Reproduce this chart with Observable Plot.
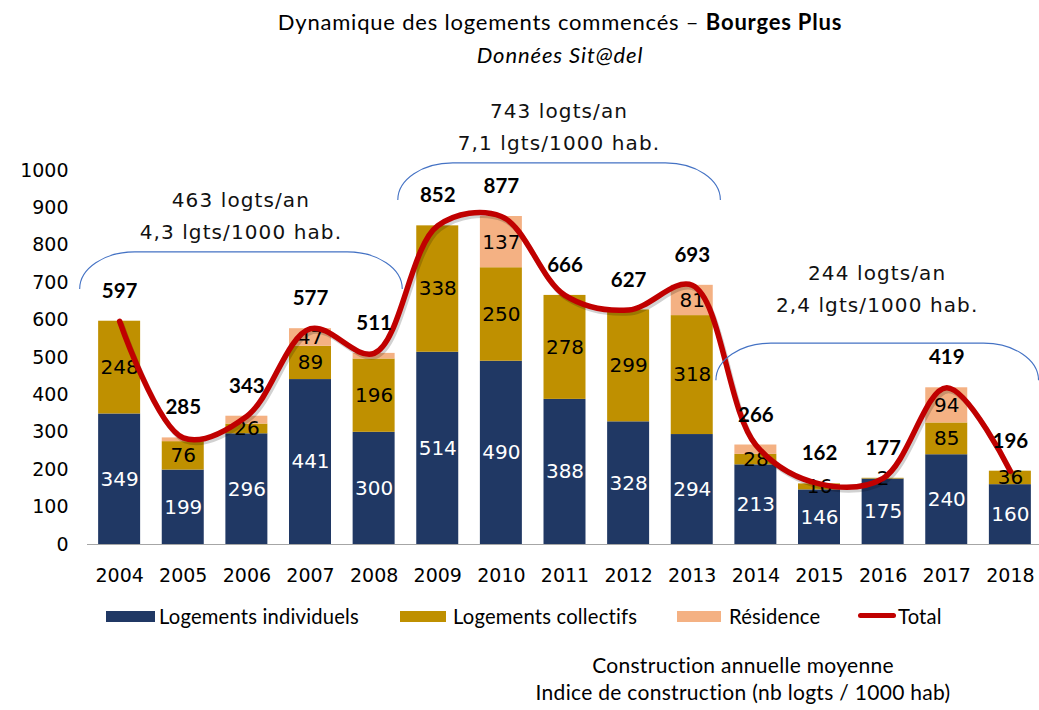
<!DOCTYPE html>
<html><head><meta charset="utf-8">
<script src="https://cdn.jsdelivr.net/npm/d3@7"></script>
<script src="https://cdn.jsdelivr.net/npm/@observablehq/plot@0.6"></script>
<style>
body{margin:0;background:#fff;}
#wrap{position:relative;width:1039px;height:710px;overflow:hidden;font-family:Lato,"Open Sans",sans-serif;color:#000;}
.t1{position:absolute;left:60px;width:1000px;top:8px;text-align:center;font-size:22px;line-height:28px;letter-spacing:0.8px;}
.t2{position:absolute;left:60px;width:1000px;top:41px;text-align:center;font-size:22px;line-height:28px;font-style:italic;letter-spacing:0.9px;}
#chart{position:absolute;left:0;top:80px;}
.leg{position:absolute;top:603px;font-size:20.2px;line-height:26px;white-space:nowrap;letter-spacing:0.2px;}
.sw{position:absolute;top:8px;height:11px;}
.cap{position:absolute;left:493px;width:500px;top:651px;text-align:center;font-size:21px;line-height:27px;letter-spacing:0.3px;}
</style></head><body>
<div id="wrap">
  <div class="t1">Dynamique des logements commencés – <b>Bourges Plus</b></div>
  <div class="t2">Données Sit@del</div>
  <div id="chart"></div>
  <div id="legend"></div>
  <div class="cap">Construction annuelle moyenne<br>Indice de construction (nb logts / 1000 hab)</div>
</div>
<script>
const years = ["2004","2005","2006","2007","2008","2009","2010","2011","2012","2013","2014","2015","2016","2017","2018"];
const individuels = [349,199,296,441,300,514,490,388,328,294,213,146,175,240,160];
const collectifs  = [248, 76, 26, 89,196,338,250,278,299,318, 28, 16,  2, 85, 36];
const residence   = [  0, 10, 21, 47, 15,  0,137,  0,  0, 81, 25,  0,  0, 94,  0];
const totals      = [597,285,343,577,511,852,877,666,627,693,266,162,177,419,196];
const types = ["Logements individuels","Logements collectifs","Résidence"];
const colors = ["#203864","#BF9000","#F4B183"];
const yTicks = [0,100,200,300,400,500,600,700,800,900,1000];

// period annotations (levels in data units)
const periodFrom   = ["2004","2009","2014"];
const periodTo     = ["2008","2013","2018"];
const periodMid    = ["2006","2011","2016"];
const periodLevel  = [781, 1019, 537];
const periodTextY  = [818, 1056, 622];
const periodText   = ["463 logts/an\n4,3 lgts/1000 hab.","743 logts/an\n7,1 lgts/1000 hab.","244 logts/an\n2,4 lgts/1000 hab."];

const series = [individuels, collectifs, residence];
const rows = years.flatMap((yr,i) => types.map((t,k) => ({year: yr, type: t, value: series[k][i]})));
const labelRows = years.flatMap((yr,i) => {
  const out = [];
  let base = 0;
  series.forEach((s,k) => {
    const v = s[i];
    const show = k === 0 ? true : (k === 1 ? v > 0 : v >= 40);
    if (show) out.push({year: yr, k, value: v, mid: base + v/2});
    base += v;
  });
  return out;
});
const totalRows = years.map((yr,i) => ({year: yr, total: totals[i]}));
const periods = periodFrom.map((f,i) => ({from: f, to: periodTo[i], mid: periodMid[i], level: periodLevel[i], textY: periodTextY[i], text: periodText[i]}));

const font = "'DejaVu Sans', sans-serif";
const plot = Plot.plot({
  width: 1039, height: 520,
  marginLeft: 87, marginRight: 0, marginTop: 90, marginBottom: 56,
  style: {fontFamily: font, fontSize: "19px", background: "transparent", overflow: "visible"},
  x: {domain: years, range: [76.5, 1052.5], padding: 0.34, round: false, tickSize: 0, tickPadding: 24, label: null},
  y: {domain: [0, 1000], ticks: yTicks, tickFormat: d => String(d), tickSize: 0, tickPadding: 19, label: null},
  color: {domain: types, range: colors},
  marks: [
    Plot.barY(rows, {x: "year", y: "value", fill: "type"}),
    Plot.ruleY([0], {stroke: "#A6A6A6", strokeWidth: 1.2}),
    Plot.text(labelRows.filter(d => d.k === 0), {x: "year", y: "mid", text: d => String(d.value), fill: "white", fontSize: 20}),
    Plot.text(labelRows.filter(d => d.k > 0), {x: "year", y: "mid", text: d => String(d.value), fill: "black", fontSize: 20}),
    Plot.line(totalRows, {x: "year", y: "total", stroke: "#000", strokeOpacity: 0.18, strokeWidth: 5, dx: 2, dy: 3, curve: "catmull-rom"}),
    Plot.line(totalRows, {x: "year", y: "total", stroke: "#C00000", strokeWidth: 5.5, curve: "catmull-rom", strokeLinecap: "round"}),
    Plot.text(totalRows, {x: "year", y: "total", text: d => String(d.total), dy: -30, fontFamily: "Lato, sans-serif", fontWeight: "bold", fontSize: 20.5, fill: "black"}),
    Plot.text(periods, {x: "mid", y: "textY", text: "text", dx: -6, lineAnchor: "bottom", fontSize: 20, lineHeight: 1.6, fill: "#111"})
  ]
});
document.getElementById("chart").appendChild(plot);
// letter spacing for period annotations
d3.select(plot).selectAll("text").filter(function(){ return /logts\/an/.test(this.textContent); }).style("letter-spacing","1.1px");

// braces drawn with the plot's own scales
const sx = plot.scale("x"), sy = plot.scale("y");
const bw = sx.bandwidth, step = sx.step;
const g = d3.select(plot).append("g").attr("fill", "none").attr("stroke", "#4472C4").attr("stroke-width", 1.1);
periods.forEach(p => {
  const cL = sx.apply(p.from) + bw/2, cR = sx.apply(p.to) + bw/2;
  const xL = cL - 0.62*step, xR = cR + 0.45*step;
  const yT = sy.apply(p.level), yE = yT + 37;
  const r = 55;
  g.append("path").attr("d", `M${xL},${yE} A${r},${yE-yT} 0 0 1 ${xL+r},${yT} L${xR-r},${yT} A${r},${yE-yT} 0 0 1 ${xR},${yE}`);
});

// legend
const leg = document.getElementById("legend");
const items = [
  {label: types[0], color: colors[0], sx: 106, sw: 49, tx: 159},
  {label: types[1], color: colors[1], sx: 400, sw: 46, tx: 453},
  {label: types[2], color: colors[2], sx: 677, sw: 44, tx: 729},
];
items.forEach(it => {
  const sw = document.createElement("div");
  sw.className = "leg"; sw.style.left = it.sx + "px";
  sw.innerHTML = `<div class="sw" style="left:0;width:${it.sw}px;background:${it.color}"></div>`;
  leg.appendChild(sw);
  const t = document.createElement("div");
  t.className = "leg"; t.style.left = it.tx + "px"; t.textContent = it.label;
  leg.appendChild(t);
});
const ln = document.createElement("div");
ln.className = "leg"; ln.style.left = "858px";
ln.innerHTML = `<div class="sw" style="left:0;top:10px;width:38px;height:5px;border-radius:3px;background:#C00000"></div>`;
leg.appendChild(ln);
const lt = document.createElement("div");
lt.className = "leg"; lt.style.left = "898px"; lt.textContent = "Total";
leg.appendChild(lt);
</script>
</body></html>
